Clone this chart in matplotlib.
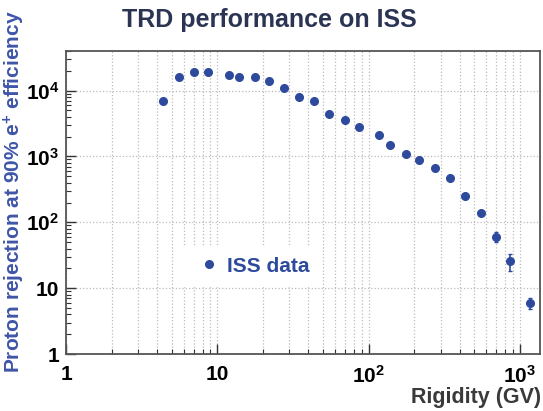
"TRD proton rejection vs rigidity"

import numpy as np
import matplotlib.pyplot as plt
from matplotlib.lines import Line2D
from matplotlib.ticker import LogLocator, FixedLocator, FixedFormatter, NullFormatter

plt.rcParams['font.family'] = ['Liberation Sans', 'DejaVu Sans']
plt.rcParams['font.weight'] = 'bold'
plt.rcParams['mathtext.fontset'] = 'custom'
plt.rcParams['mathtext.rm'] = 'Liberation Sans:bold'
plt.rcParams['mathtext.bf'] = 'Liberation Sans:bold'
plt.rcParams['mathtext.default'] = 'bf'

rigidity = [4.36, 5.56, 7.01, 8.72, 11.9, 13.9, 17.7, 21.9, 27.6, 34.7, 43.4,
            55.0, 69.8, 86.4, 117.7, 137.8, 177.4, 216, 275, 345, 432, 550,
            698, 857, 1167]
rejection = [7000, 16200, 19300, 19300, 17100, 16000, 16200, 14200, 11100, 8050,
             7000, 4490, 3640, 2820, 2110, 1500, 1107, 897, 662, 478, 252, 139,
             60.6, 25.5, 5.96]
rej_err = [0, 0, 0, 0, 0, 0, 0, 0, 0, 0, 0, 0, 0, 0, 0, 0, 0, 0, 0, 0, 0, 0,
           11, 7, 1.1]

xticks = [1, 10, 100, 1000]
xticklabels = ['1', '10', '$10^2$', '$10^3$']
yticks = [1, 10, 100, 1000, 10000]
yticklabels = ['1', '10', '$10^2$', '$10^3$', '$10^4$']

blue = '#2d4a9c'

fig = plt.figure(figsize=(5.43, 4.11), dpi=100)
ax = fig.add_axes([66/543, 1 - 354/411, 474/543, 303/411])

ax.errorbar(rigidity, rejection, yerr=rej_err, fmt='o', color=blue, ms=5.5,
            elinewidth=1.2, capsize=1.5, zorder=3)

ax.set_xscale('log'); ax.set_yscale('log')
ax.set_xlim(1, 1360); ax.set_ylim(1, 40000)

ax.xaxis.set_major_locator(FixedLocator(xticks))
ax.xaxis.set_major_formatter(FixedFormatter(xticklabels))
ax.yaxis.set_major_locator(FixedLocator(yticks))
ax.yaxis.set_major_formatter(FixedFormatter(yticklabels))
ax.xaxis.set_minor_locator(LogLocator(base=10, subs=np.arange(2, 10), numticks=20))
ax.yaxis.set_minor_locator(LogLocator(base=10, subs=np.arange(2, 10), numticks=20))
ax.xaxis.set_minor_formatter(NullFormatter()); ax.yaxis.set_minor_formatter(NullFormatter())

ax.tick_params(which='both', direction='in', labelsize=15, colors='#333333',
               labelcolor='black')
ax.tick_params(which='major', length=7, width=1)
ax.tick_params(which='minor', length=3.5, width=0.8)
ax.tick_params(axis='x', pad=8)
ax.tick_params(axis='y', pad=5)

ax.grid(True, which='both', axis='x', color='#bbbbbb', linestyle=':', linewidth=0.9)
ax.grid(True, which='major', axis='y', color='#bbbbbb', linestyle=':', linewidth=0.9)
for s in ax.spines.values():
    s.set_color('#555555'); s.set_linewidth(1.3)

handle = Line2D([], [], marker='o', linestyle='none', color=blue, ms=5.5)
leg = ax.legend([handle], ['ISS data'], loc='center left',
                bbox_to_anchor=(0.225, 0.29), frameon=True, fancybox=False,
                edgecolor='white', framealpha=1, handletextpad=0.1,
                handlelength=1.5, prop={'size': 15, 'weight': 'bold'}, borderpad=0.5)
for t in leg.get_texts():
    t.set_color(blue)

fig.text(0.497, 0.952, 'TRD performance on ISS', ha='center', va='center',
         fontsize=18, fontweight='bold', color='#2b3553')
fig.text(541/543, 1 - 397/411, 'Rigidity (GV)', ha='right', va='center',
         fontsize=15.5, fontweight='bold', color='#3a3a3a')
fig.text(14/543, 1 - 192/411, 'Proton rejection at 90% e$^{+}$ efficiency',
         rotation=90, ha='center', va='center', fontsize=15, fontweight='bold',
         color='#3f55a8')

plt.savefig('out.png', dpi=100)
